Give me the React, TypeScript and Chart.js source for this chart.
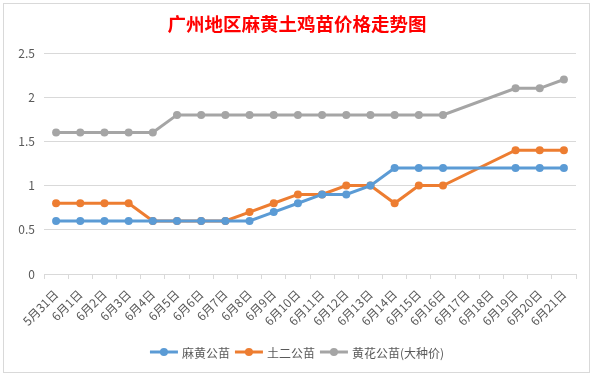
import React, { useEffect, useRef } from "react";
import { Chart, registerables } from "chart.js";

Chart.register(...registerables);

const TITLE = "广州地区麻黄土鸡苗价格走势图";
const categories = [
  "5月31日", "6月1日", "6月2日", "6月3日", "6月4日", "6月5日", "6月6日", "6月7日",
  "6月8日", "6月9日", "6月10日", "6月11日", "6月12日", "6月13日", "6月14日", "6月15日",
  "6月16日", "6月17日", "6月18日", "6月19日", "6月20日", "6月21日",
];
const mahuang = [0.6, 0.6, 0.6, 0.6, 0.6, 0.6, 0.6, 0.6, 0.6, 0.7, 0.8, 0.9, 0.9, 1.0, 1.2, 1.2, 1.2, null, null, 1.2, 1.2, 1.2];
const tuer = [0.8, 0.8, 0.8, 0.8, 0.6, 0.6, 0.6, 0.6, 0.7, 0.8, 0.9, 0.9, 1.0, 1.0, 0.8, 1.0, 1.0, null, null, 1.4, 1.4, 1.4];
const huanghua = [1.6, 1.6, 1.6, 1.6, 1.6, 1.8, 1.8, 1.8, 1.8, 1.8, 1.8, 1.8, 1.8, 1.8, 1.8, 1.8, 1.8, null, null, 2.1, 2.1, 2.2];
const seriesNames = ["麻黄公苗", "土二公苗", "黄花公苗(大种价)"];
const seriesColors = ["#5B9BD5", "#ED7D31", "#A5A5A5"];

const FONT = "'Noto Sans CJK SC', 'Noto Sans', sans-serif";

const decorPlugin = {
  id: "decor",
  beforeDraw(chart: any) {
    const ctx = chart.ctx;
    ctx.save();
    ctx.fillStyle = "#ffffff";
    ctx.fillRect(0, 0, chart.width, chart.height);
    ctx.strokeStyle = "#d9d9d9";
    ctx.lineWidth = 1;
    ctx.strokeRect(3.5, 3.5, chart.width - 7, chart.height - 7);
    ctx.restore();
  },
  afterDraw(chart: any) {
    const ctx = chart.ctx;
    ctx.save();
    // title
    ctx.fillStyle = "#FF0000";
    ctx.font = `bold 18.5px ${FONT}`;
    ctx.textAlign = "center";
    ctx.textBaseline = "middle";
    ctx.fillText(TITLE, 297, 24);
    // legend
    ctx.font = `12px ${FONT}`;
    ctx.textBaseline = "middle";
    ctx.textAlign = "left";
    const y = 352;
    const lineW = 28;
    const gap = 4;
    const itemGap = 5;
    const widths = chart.data.datasets.map((d: any) => lineW + gap + ctx.measureText(d.label).width);
    const total = widths.reduce((a: number, b: number) => a + b, 0) + itemGap * (widths.length - 1);
    let x = 297 - total / 2;
    chart.data.datasets.forEach((d: any, i: number) => {
      ctx.strokeStyle = d.borderColor;
      ctx.lineWidth = 3;
      ctx.beginPath();
      ctx.moveTo(x, y);
      ctx.lineTo(x + lineW, y);
      ctx.stroke();
      ctx.fillStyle = d.borderColor;
      ctx.beginPath();
      ctx.arc(x + lineW / 2, y, 4, 0, Math.PI * 2);
      ctx.fill();
      ctx.fillStyle = "#595959";
      ctx.fillText(d.label, x + lineW + gap, y + 1);
      x += widths[i] + itemGap;
    });
    ctx.restore();
  },
};

export default function App() {
  const ref = useRef<HTMLCanvasElement>(null);
  useEffect(() => {
    document.body.style.margin = "0";
    const canvas = ref.current!;
    const series = [mahuang, tuer, huanghua];
    const chart = new Chart(canvas, {
      type: "line",
      data: {
        labels: categories,
        datasets: series.map((s, i) => ({
          label: seriesNames[i],
          data: s,
          borderColor: seriesColors[i],
          backgroundColor: seriesColors[i],
          borderWidth: 3,
          pointRadius: 4,
          pointBorderWidth: 0,
          pointBackgroundColor: seriesColors[i],
          spanGaps: true,
          tension: 0,
        })),
      },
      options: {
        responsive: false,
        animation: false,
        devicePixelRatio: 1,
        layout: { padding: { top: 53, right: 17, bottom: 30, left: 0 } },
        plugins: { legend: { display: false }, title: { display: false }, tooltip: { enabled: false } },
        scales: {
          x: {
            offset: true,
            grid: {
              display: true,
              offset: true,
              drawOnChartArea: false,
              drawTicks: true,
              tickLength: 5,
              color: "#d9d9d9",
            },
            border: { display: true, color: "#d9d9d9", width: 1 },
            ticks: {
              autoSkip: false,
              maxRotation: 45,
              minRotation: 45,
              color: "#595959",
              font: { family: FONT, size: 12 },
              padding: 8,
            },
            afterFit(scale: any) {
              scale.height = 72;
            },
          },
          y: {
            min: 0,
            max: 2.5,
            ticks: {
              stepSize: 0.5,
              color: "#595959",
              font: { family: FONT, size: 12 },
              padding: 9,
              callback: (v: any) => String(v),
            },
            grid: { color: "#d9d9d9", drawTicks: false },
            border: { display: false },
            afterFit(scale: any) {
              scale.width = 44;
            },
          },
        },
      },
      plugins: [decorPlugin],
    });
    return () => chart.destroy();
  }, []);
  return <canvas ref={ref} width={593} height={376} style={{ display: "block" }} />;
}
